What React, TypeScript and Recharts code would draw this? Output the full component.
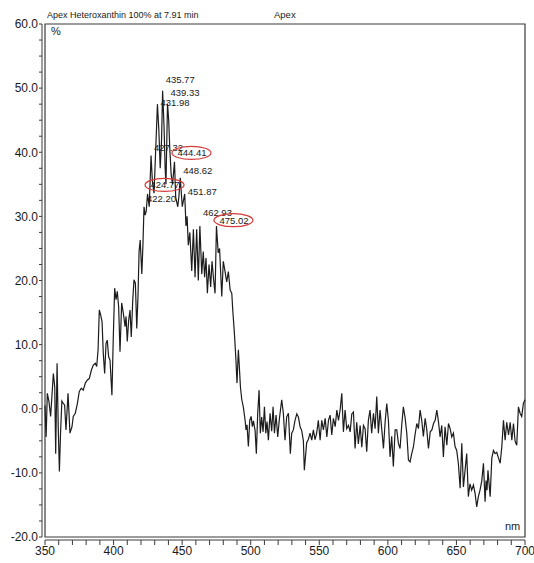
import React from 'react';
import { LineChart, Line, XAxis, YAxis, ReferenceArea, ReferenceDot } from 'recharts';

// UV-Vis spectrum, wavelength (nm) against relative absorbance (%)
const wavelengths = [
  350.0, 350.8, 351.7, 352.9, 354.1, 356.1, 357.1, 357.8, 358.8, 359.7,
  360.5, 361.3, 362.3, 363.4, 364.3, 365.3, 366.8, 368.2, 369.7, 370.6,
  372.1, 373.6, 375.0, 376.5, 377.9, 379.4, 380.9, 382.3, 383.8, 385.2,
  386.7, 387.7, 388.7, 389.6, 390.6, 391.6, 392.5, 393.5, 394.5, 395.4,
  396.4, 397.4, 398.8, 399.8, 400.8, 401.8, 402.7, 403.7, 404.7, 405.9,
  407.1, 408.4, 409.1, 410.0, 411.0, 412.0, 412.9, 414.0, 414.9, 415.9,
  416.9, 417.8, 418.6, 419.4, 420.6, 421.4, 422.2, 423.0, 423.8, 424.77,
  426.0, 427.32, 428.3, 429.5, 431.0, 431.98, 433.0, 434.0, 435.0, 435.77,
  436.8, 437.6, 438.2, 439.33, 440.2, 441.0, 442.0, 443.0, 444.41, 445.3,
  446.8, 447.6, 448.62, 450.1, 451.87, 452.8, 453.6, 454.5, 455.6, 457.0,
  458.2, 459.4, 460.6, 461.8, 462.93, 464.3, 465.4, 466.4, 467.4, 468.4,
  469.6, 470.8, 471.8, 473.0, 474.0, 475.02, 476.3, 477.3, 478.9, 480.0,
  481.2, 482.5, 483.7, 485.0, 486.2, 486.9, 488.1, 489.1, 490.0, 491.0,
  491.7, 492.5, 493.5, 494.6, 495.9, 496.6, 497.3, 498.3, 499.3, 500.3,
  501.2, 502.0, 503.2, 504.1, 505.1, 506.1, 507.0, 508.0, 509.0, 510.0,
  511.0, 511.9, 512.9, 514.1, 515.3, 516.3, 517.3, 518.5, 519.7, 520.9,
  522.6, 523.8, 525.0, 526.2, 527.5, 528.9, 529.9, 531.1, 532.3, 533.6,
  534.8, 536.0, 537.2, 538.4, 539.1, 540.8, 542.0, 543.3, 544.5, 545.7,
  546.9, 548.1, 549.3, 550.6, 551.8, 553.0, 554.3, 555.5, 556.7, 557.9,
  559.1, 560.3, 561.6, 562.8, 564.0, 565.2, 566.4, 567.6, 568.8, 570.0,
  571.3, 572.5, 573.7, 574.9, 576.1, 577.3, 578.5, 579.8, 581.0, 582.2,
  583.4, 584.6, 585.8, 587.0, 588.2, 589.5, 590.7, 591.9, 593.1, 594.3,
  595.6, 596.8, 598.0, 599.2, 600.4, 601.6, 602.8, 604.0, 605.3, 606.5,
  607.7, 608.9, 610.1, 611.3, 612.5, 613.8, 615.0, 616.2, 617.4, 618.6,
  619.8, 621.1, 622.3, 623.5, 624.7, 625.9, 627.2, 628.4, 629.6, 630.9,
  632.1, 633.3, 634.5, 635.7, 636.9, 638.1, 639.3, 640.5, 641.7, 643.0,
  644.2, 645.4, 646.6, 647.8, 649.0, 650.2, 651.4, 652.7, 653.9, 655.1,
  656.3, 657.5, 658.7, 659.9, 661.1, 662.4, 663.6, 664.8, 666.0, 667.2,
  668.5, 669.7, 670.9, 671.6, 672.3, 673.0, 674.6, 675.8, 677.0, 678.2,
  679.4, 680.7, 681.9, 683.1, 684.3, 685.5, 686.7, 688.0, 689.2, 690.4,
  691.6, 692.8, 694.0, 695.2, 696.4, 697.6, 698.8, 700.0,
];

const percent = [
  0.5, -4.4, 2.4, 1.1, -1.2, 5.5, 3.4, -7.0, 7.1, -3.3,
  -9.8, -4.0, 1.2, 0.8, 0.6, -3.3, 2.4, -3.8, -2.8, -1.2,
  -0.7, 0.8, 2.7, 3.2, 2.9, 4.0, 4.5, 4.7, 6.0, 6.8,
  7.1, 6.6, 9.2, 15.4, 14.6, 13.6, 8.6, 5.5, 10.2, 10.7,
  8.1, 7.6, 2.1, 11.2, 18.8, 17.0, 18.3, 15.9, 8.9, 16.5,
  14.9, 12.8, 14.4, 10.5, 13.8, 15.4, 11.2, 17.0, 20.1, 19.6,
  12.5, 17.5, 24.5, 26.3, 21.0, 25.5, 31.5, 30.2, 30.8, 33.5,
  31.5, 39.5, 35.5, 33.6, 42.0, 47.5, 43.5, 37.5, 42.0, 49.6,
  44.0, 37.5, 35.0, 47.6, 45.0, 40.5, 36.5, 35.0, 38.5, 33.0,
  31.5, 33.0, 36.0, 31.5, 33.5, 28.5, 30.0, 25.5, 27.5, 21.5,
  28.0, 20.5, 28.0, 20.0, 28.5, 21.0, 24.5, 20.5, 23.5, 18.0,
  22.5, 19.0, 23.0, 20.0, 18.0, 28.5, 24.3, 25.0, 17.5, 23.0,
  21.5, 19.8, 21.4, 18.5, 18.0, 15.4, 11.8, 8.1, 4.0, 9.2,
  6.6, 3.4, 1.4, 0.3, -1.8, -3.3, -2.5, -5.9, -1.8, -1.2,
  -2.8, -1.9, -3.4, -7.0, -0.7, 2.9, -3.8, -1.3, -3.6, 0.3,
  -3.8, -2.0, -4.9, -0.7, -3.5, 0.3, -3.8, -1.0, -4.4, -1.6,
  1.4, -0.7, -4.9, -1.3, -0.7, -7.0, -3.8, -3.3, -1.8, -0.8,
  -1.3, -2.8, -3.4, -5.0, -9.6, -5.3, -4.8, -3.8, -4.9, -3.3,
  -4.8, -3.8, -1.8, -4.9, -1.8, -3.3, -1.5, -4.4, -1.8, -1.0,
  -4.1, -1.5, -2.8, -0.2, -1.8, -0.2, 2.4, -3.6, -0.2, -3.1,
  -2.6, -3.6, -0.8, -0.5, -6.2, -2.1, -5.5, -2.6, -6.0, -2.6,
  -3.1, -6.7, -1.8, -0.2, -3.8, -0.7, -3.1, 1.9, -3.8, -0.2,
  -3.3, -6.2, -2.1, 0.8, -1.8, -7.5, -4.3, -9.0, -3.3, -3.3,
  -5.4, -6.2, -2.6, 0.3, -1.3, -3.8, -8.0, -8.3, -7.0, -6.0,
  -4.1, -2.3, -3.1, -0.2, -1.8, -4.3, -1.5, -3.3, -6.2, -3.6,
  -3.3, -2.3, -1.8, -0.2, -2.0, -4.4, -2.6, -7.5, -2.8, -5.7,
  -2.3, -3.1, -4.4, -3.8, -5.9, -6.5, -8.5, -12.4, -5.4, -12.2,
  -9.6, -7.0, -13.7, -11.7, -12.7, -11.9, -13.2, -15.3, -13.7, -12.7,
  -11.2, -8.5, -14.5, -11.2, -12.7, -9.6, -13.7, -7.7, -6.5, -7.0,
  -6.8, -7.7, -8.5, -5.9, -1.8, -4.9, -2.1, -4.1, -2.1, -4.9,
  -2.3, -5.1, -5.7, 0.3, -0.7, -1.2, 0.8, 1.4,
];

// peak annotations: wavelength and the height the label sits at
const peakNm = [435.77, 439.33, 431.98, 427.32, 444.41, 448.62, 424.77, 451.87, 422.2, 462.93, 475.02];
const peakLabelPct = [51.3, 49.3, 47.7, 40.7, 39.9, 37.1, 34.9, 33.9, 32.7, 30.5, 29.4];
const circledPeaks = [444.41, 424.77, 475.02];

const xLabels = [350, 400, 450, 500, 550, 600, 650, 700];
const yLabels = [-20, -10, 0, 10, 20, 30, 40, 50, 60];

const xTicks: number[] = [];
for (let v = 350; v <= 700; v += 10) xTicks.push(v);
const yTicks: number[] = [];
for (let v = -20; v <= 60; v += 2.5) yTicks.push(v);

const spectrum = wavelengths.map((nm, i) => ({ nm, pct: percent[i] }));

const FONT = '"Liberation Sans", Arial, sans-serif';
const AXIS = '#3a3a3a';

const PeakLabel = (props: any) => {
  const { cx, cy, nm } = props;
  const text = nm.toFixed(2);
  const tx = cx + 3;
  return (
    <g>
      <text x={tx} y={cy} dy="0.35em" fontSize={9.5} fontFamily={FONT} fill="#1a1a1a">
        {text}
      </text>
      {circledPeaks.includes(nm) && (
        <ellipse cx={tx + 14} cy={cy} rx={19.5} ry={6.5} fill="none" stroke="#d43c3c" strokeWidth={1.2} />
      )}
    </g>
  );
};

export default function App() {
  return (
    <div style={{ position: 'absolute', left: 0, top: 0, width: 534, height: 563, background: '#fff' }}>
      <div style={{ position: 'absolute', left: 47, top: 10, fontSize: 9, fontFamily: FONT, color: '#1a1a1a', whiteSpace: 'nowrap' }}>
        Apex Heteroxanthin 100% at 7.91 min
      </div>
      <div style={{ position: 'absolute', left: 274, top: 9, fontSize: 9.5, fontFamily: FONT, color: '#1a1a1a' }}>
        Apex
      </div>
      <div style={{ position: 'absolute', left: 51, top: 25, fontSize: 11, fontFamily: FONT, color: '#1a1a1a' }}>
        %
      </div>
      <div style={{ position: 'absolute', left: 505, top: 520, fontSize: 11, fontFamily: FONT, color: '#1a1a1a' }}>
        nm
      </div>
      <LineChart width={534} height={563} data={spectrum} margin={{ top: 24, right: 9, bottom: 0, left: 0 }}>
        <XAxis xAxisId="gap" dataKey="nm" type="number" domain={[350, 700]} height={3} tick={false} axisLine={false} tickLine={false} />
        <XAxis
          xAxisId="nm"
          dataKey="nm"
          type="number"
          domain={[350, 700]}
          ticks={xTicks}
          interval={0}
          height={23}
          tickSize={5}
          tickMargin={1}
          tickFormatter={(v: number) => (xLabels.includes(v) ? String(v) : '')}
          tick={{ fontSize: 12, fontFamily: FONT, fill: '#1a1a1a' }}
          axisLine={{ stroke: AXIS }}
          tickLine={{ stroke: AXIS }}
        />
        <YAxis yAxisId="gap" type="number" domain={[-20, 60]} width={3} tick={false} axisLine={false} tickLine={false} />
        <YAxis
          yAxisId="pct"
          type="number"
          domain={[-20, 60]}
          ticks={yTicks}
          interval={0}
          width={42}
          tickSize={3}
          tickMargin={1}
          tickFormatter={(v: number) => (yLabels.includes(v) ? v.toFixed(1) : '')}
          tick={{ fontSize: 12, fontFamily: FONT, fill: '#1a1a1a' }}
          axisLine={{ stroke: AXIS }}
          tickLine={{ stroke: AXIS }}
        />
        <ReferenceArea xAxisId="nm" yAxisId="pct" x1={350} x2={700} y1={-20} y2={60} fill="none" stroke={AXIS} strokeWidth={1.2} />
        <Line
          xAxisId="nm"
          yAxisId="pct"
          dataKey="pct"
          type="linear"
          dot={false}
          stroke="#1c1c1c"
          strokeWidth={1.2}
          isAnimationActive={false}
        />
        {peakNm.map((nm, i) => (
          <ReferenceDot
            key={nm}
            xAxisId="nm"
            yAxisId="pct"
            x={nm}
            y={peakLabelPct[i]}
            r={0}
            shape={(p: any) => <PeakLabel {...p} nm={nm} />}
          />
        ))}
      </LineChart>
    </div>
  );
}
